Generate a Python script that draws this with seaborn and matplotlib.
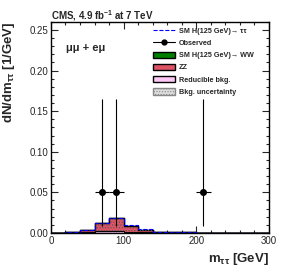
import matplotlib
matplotlib.use('Agg')

import numpy as np
import pandas as pd
import matplotlib.pyplot as plt
import seaborn as sns
from matplotlib.patches import Patch
from matplotlib.lines import Line2D

# binned expectations, 20 GeV bins from 0 to 300 (per GeV)
edges = list(range(0, 320, 20))
reducible = [0.0, 0.0006, 0.0010, 0.0020, 0.0025, 0.0015, 0.0008, 0.0005, 0.0003, 0.0003, 0.0002, 0.0, 0.0, 0.0, 0.0]
zz = [0.0, 0.0009, 0.0020, 0.0100, 0.0155, 0.0065, 0.0025, 0.0008, 0.0004, 0.0003, 0.0002, 0.0, 0.0, 0.0, 0.0]
ww = [0.0, 0.0, 0.0, 0.0, 0.0001, 0.0001, 0.0, 0.0, 0.0, 0.0, 0.0, 0.0, 0.0, 0.0, 0.0]
htt = [0.0, 0.0, 0.0, 0.0003, 0.0005, 0.0020, 0.0010, 0.0004, 0.0002, 0.0, 0.0, 0.0, 0.0, 0.0, 0.0]

# observed events (one event each, 20 GeV bins -> 0.05 / GeV)
obs_x = [70, 90, 210]
obs_y = [0.05, 0.05, 0.05]
obs_lo = [0.0414, 0.0414, 0.0414]
obs_hi = [0.1150, 0.1150, 0.1150]

sns.set_theme(style="ticks")
plt.rcParams['font.family'] = ['Liberation Sans', 'DejaVu Sans']
plt.rcParams['mathtext.fontset'] = 'custom'
plt.rcParams['mathtext.rm'] = 'Liberation Sans:bold'
plt.rcParams['mathtext.it'] = 'Liberation Sans:bold'
plt.rcParams['mathtext.bf'] = 'Liberation Sans:bold'
plt.rcParams['hatch.linewidth'] = 0.5

fig = plt.figure(figsize=(2.83, 2.74), dpi=100)
ax = fig.add_axes([0.180, 0.150, 0.770, 0.770])

centers = np.array(edges[:-1]) + 10
df = pd.DataFrame({"m": centers,
                   "s1": np.array(reducible)})
df["s2"] = df["s1"] + np.array(zz)
df["s3"] = df["s2"] + np.array(ww)
df["s4"] = df["s3"] + np.array(htt)

# stacked layers, drawn top down
sns.histplot(data=df, x="m", weights="s3", bins=edges, element="step", fill=True,
             color="#008000", alpha=1, edgecolor="black", linewidth=1.0, ax=ax)
sns.histplot(data=df, x="m", weights="s2", bins=edges, element="step", fill=True,
             color="#de5465", alpha=1, edgecolor="black", linewidth=1.0, ax=ax)
sns.histplot(data=df, x="m", weights="s1", bins=edges, element="step", fill=True,
             color="#fdc8f5", alpha=1, edgecolor="black", linewidth=0.8, ax=ax)
n0 = len(ax.collections)
sns.histplot(data=df, x="m", weights="s3", bins=edges, element="step", fill=True,
             color="#555555", alpha=0.6, linewidth=0, ax=ax)
for c in ax.collections[n0:]:
    c.set_facecolor('none')
    c.set_edgecolor('#555555')
    c.set_hatch('......')
sns.histplot(data=df, x="m", weights="s4", bins=edges, element="step", fill=False,
             color="blue", linestyle="--", linewidth=0.8, ax=ax)

ax.errorbar(obs_x, obs_y, xerr=10, yerr=[obs_lo, obs_hi], fmt='o', color='black',
            markersize=4, elinewidth=0.8, capsize=0)

ax.set_xlim(0, 300)
ax.set_ylim(0, 0.26)
ax.set_xticks([0, 100, 200, 300])
ax.set_yticks([0.0, 0.05, 0.10, 0.15, 0.20, 0.25])
ax.set_yticklabels(["0.00", "0.05", "0.10", "0.15", "0.20", "0.25"])
ax.minorticks_on()
ax.tick_params(which='both', direction='in', top=True, right=True, labelsize=7, pad=2)
ax.tick_params(which='major', length=5, width=0.8)
ax.tick_params(which='minor', length=2.5, width=0.8)
for sp in ax.spines.values():
    sp.set_linewidth(1.0)
    sp.set_color('black')

ax.set_ylabel(r"dN/dm$_{\mathregular{ττ}}$ [1/GeV]", fontsize=9.5, fontweight='bold')
ax.set_xlabel(r"m$_{\mathregular{ττ}}$ [GeV]", fontsize=9.5, fontweight='bold', loc='right')
ax.yaxis.set_label_coords(-0.158, 0.76)
ax.xaxis.set_label_coords(1.0, -0.085)

fig.text(0.180, 0.928, r"CMS, 4.9 fb$^{\mathregular{-1}}$ at 7 TeV", fontsize=7, fontweight='bold')
ax.text(0.07, 0.86, "μμ + eμ", transform=ax.transAxes, fontsize=8, fontweight='bold')

handles = [
    Line2D([0], [0], color='blue', linestyle='--', linewidth=0.8),
    Line2D([0], [0], color='black', marker='o', markersize=3.5, linewidth=0.8),
    Patch(facecolor='#008000', edgecolor='black'),
    Patch(facecolor='#de5465', edgecolor='black'),
    Patch(facecolor='#fdc8f5', edgecolor='black'),
    Patch(facecolor='#dddddd', edgecolor='#888888', hatch='......'),
]
labels = ["SM H(125 GeV)→ ττ", "Observed",
          "SM H(125 GeV)→ WW", "ZZ", "Reducible bkg.", "Bkg. uncertainty"]
leg = ax.legend(handles, labels, loc='upper left', bbox_to_anchor=(0.468, 0.975), frameon=False,
                fontsize=5.2, handlelength=3.0, handleheight=1.0, labelspacing=0.62,
                borderaxespad=0, borderpad=0, handletextpad=0.55)
for t in leg.get_texts():
    t.set_fontweight('bold')

fig.savefig("out.png", dpi=100)
